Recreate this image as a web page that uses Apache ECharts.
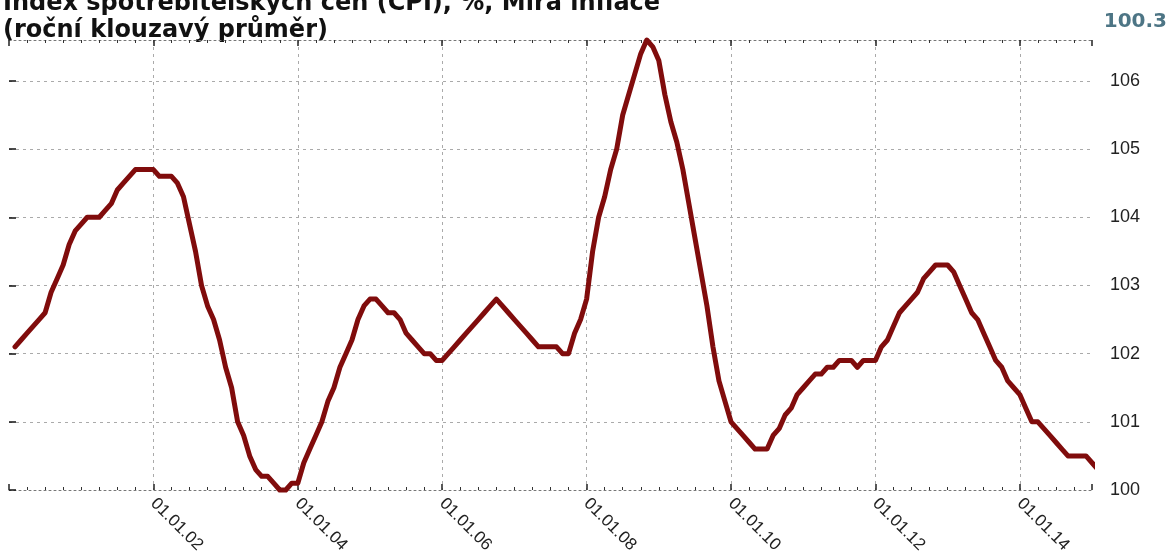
<!DOCTYPE html>
<html><head><meta charset="utf-8">
<script src="https://cdn.jsdelivr.net/npm/echarts@6/dist/echarts.min.js"></script>
<style>html,body{margin:0;padding:0;background:#fff}#c{width:1170px;height:556px}</style>
</head><body><div id="c"></div>
<script>
const titleLine1 = 'Index spotřebitelských cen (CPI), %, Míra inflace';
const titleLine2 = '(roční klouzavý průměr)';
const firstYear = 2000;
// monthly values (Jan..Dec), plotted at month end
const y2000 = [102.1,102.2,102.3,102.4,102.5,102.6,102.9,103.1,103.3,103.6,103.8,103.9];
const y2001 = [104.0,104.0,104.0,104.1,104.2,104.4,104.5,104.6,104.7,104.7,104.7,104.7];
const y2002 = [104.6,104.6,104.6,104.5,104.3,103.9,103.5,103.0,102.7,102.5,102.2,101.8];
const y2003 = [101.5,101.0,100.8,100.5,100.3,100.2,100.2,100.1,100.0,100.0,100.1,100.1];
const y2004 = [100.4,100.6,100.8,101.0,101.3,101.5,101.8,102.0,102.2,102.5,102.7,102.8];
const y2005 = [102.8,102.7,102.6,102.6,102.5,102.3,102.2,102.1,102.0,102.0,101.9,101.9];
const y2006 = [102.0,102.1,102.2,102.3,102.4,102.5,102.6,102.7,102.8,102.7,102.6,102.5];
const y2007 = [102.4,102.3,102.2,102.1,102.1,102.1,102.1,102.0,102.0,102.3,102.5,102.8];
const y2008 = [103.5,104.0,104.3,104.7,105.0,105.5,105.8,106.1,106.4,106.6,106.5,106.3];
const y2009 = [105.8,105.4,105.1,104.7,104.2,103.7,103.2,102.7,102.1,101.6,101.3,101.0];
const y2010 = [100.9,100.8,100.7,100.6,100.6,100.6,100.8,100.9,101.1,101.2,101.4,101.5];
const y2011 = [101.6,101.7,101.7,101.8,101.8,101.9,101.9,101.9,101.8,101.9,101.9,101.9];
const y2012 = [102.1,102.2,102.4,102.6,102.7,102.8,102.9,103.1,103.2,103.3,103.3,103.3];
const y2013 = [103.2,103.0,102.8,102.6,102.5,102.3,102.1,101.9,101.8,101.6,101.5,101.4];
const y2014 = [101.2,101.0,101.0,100.9,100.8,100.7,100.6,100.5,100.5,100.5,100.5,100.4];
const y2015 = [100.3];
const yearly = [y2000,y2001,y2002,y2003,y2004,y2005,y2006,y2007,y2008,y2009,y2010,y2011,y2012,y2013,y2014,y2015];

const data = [];
yearly.forEach((arr, yi) => arr.forEach((v, j) => data.push([yi * 12 + j + 1, v])));
const lastValue = data[data.length - 1][1];

const chart = echarts.init(document.getElementById('c'), null, {renderer: 'canvas'});
const fmtX = v => '01.01.' + String((firstYear + Math.round(v / 12)) % 100).padStart(2, '0');
const gridLine = {color: '#aaa', type: [3, 4], width: 1};
chart.setOption({
  animation: false,
  backgroundColor: '#fff',
  grid: {left: 9, right: 78, top: 40, bottom: 66, containLabel: false},
  graphic: [
    {type: 'text', x: 3, y: -8, style: {text: titleLine1, font: 'bold 24px "DejaVu Sans"', fill: '#111', textVerticalAlign: 'top'}},
    {type: 'text', x: 3, y: 19, style: {text: titleLine2, font: 'bold 24px "DejaVu Sans"', fill: '#111', textVerticalAlign: 'top'}},
    {type: 'text', x: 1167, y: 12, style: {text: lastValue.toFixed(1), font: 'bold 20px "DejaVu Sans"', fill: '#4d7585', textAlign: 'right', textVerticalAlign: 'top'}}
  ],
  xAxis: [{
    type: 'value', position: 'bottom', min: 0, max: 180, interval: 24,
    axisLine: {show: true, onZero: false, lineStyle: {color: '#777', type: [2, 3], width: 1}},
    axisTick: {show: true, inside: true, length: 6, lineStyle: {color: '#222', width: 1.5}},
    minorTick: {show: true, splitNumber: 8, length: 3, lineStyle: {color: '#333', width: 1}},
    axisLabel: {rotate: -45, margin: 11, fontSize: 17, color: '#222', fontFamily: 'Liberation Sans',
      formatter: fmtX, showMinLabel: false, showMaxLabel: false},
    splitLine: {show: true, showMinLine: false, showMaxLine: false, lineStyle: gridLine}
  }, {
    type: 'value', position: 'top', min: 0, max: 180, interval: 24,
    axisLine: {show: true, onZero: false, lineStyle: {color: '#777', type: [2, 3], width: 1}},
    axisTick: {show: true, inside: true, length: 6, lineStyle: {color: '#222', width: 1.5}},
    minorTick: {show: true, splitNumber: 8, length: 3, lineStyle: {color: '#333', width: 1}},
    axisLabel: {show: false},
    splitLine: {show: false}
  }],
  yAxis: {
    type: 'value', position: 'right', min: 100, max: 106.6, interval: 1,
    axisLine: {show: false},
    axisTick: {show: true, length: 7, lineStyle: {color: '#111', width: 1.5}},
    axisLabel: {fontSize: 18, color: '#222', fontFamily: 'Liberation Sans', margin: 18, showMaxLabel: false},
    splitLine: {show: true, showMinLine: false, showMaxLine: false, lineStyle: gridLine}
  },
  series: [{
    type: 'line', data: data, xAxisIndex: 0, showSymbol: false, clip: false, silent: true,
    lineStyle: {color: '#800c0c', width: 5, cap: 'round', join: 'round'}
  }]
});
</script></body></html>
